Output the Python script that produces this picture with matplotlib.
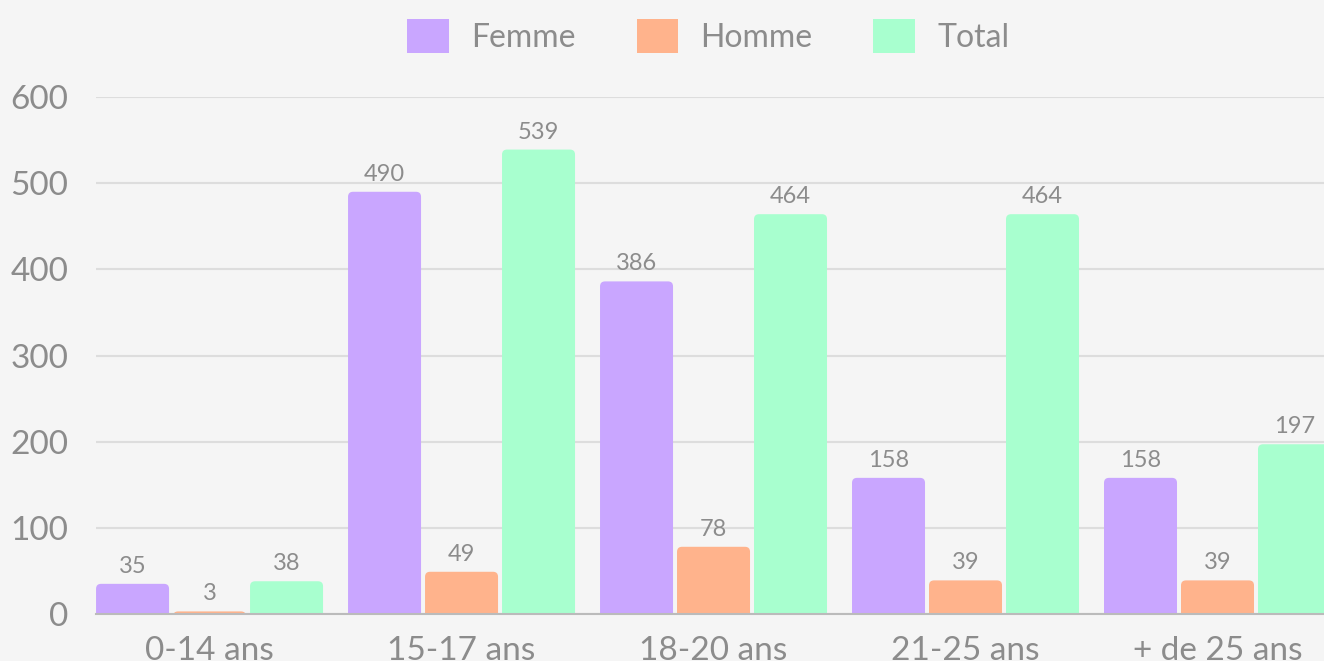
import matplotlib
matplotlib.use("Agg")
import matplotlib.pyplot as plt
from matplotlib.patches import FancyBboxPatch, Patch
import numpy as np

categories = ["0-14 ans", "15-17 ans", "18-20 ans", "21-25 ans", "+ de 25 ans"]
femme = [35, 490, 386, 158, 158]
homme = [3, 49, 78, 39, 39]
total = [38, 539, 464, 464, 197]
series_names = ["Femme", "Homme", "Total"]
colors = ["#c9a6ff", "#ffb38c", "#a8ffcf"]
yticks = [0, 100, 200, 300, 400, 500, 600]

plt.rcParams['font.family'] = ['Lato', 'DejaVu Sans']
text_color = "#8c8c8c"
bg = "#f5f5f5"

fig = plt.figure(figsize=(13.24, 6.61), dpi=100, facecolor=bg)
ax = fig.add_axes([96/1324, 47/661, 1 - 96/1324, (614-97)/661])
ax.set_facecolor(bg)

x = np.arange(len(categories))
step = 77/252
width = 73/252
ax.set_xlim(-0.4506, (1324-209.5)/252)
ax.set_ylim(0, 600)

px_per_x = 252
px_per_y = 517/600
r_px = 5
aspect = (1/px_per_y)/(1/px_per_x)

for i, (vals, col) in enumerate(zip([femme, homme, total], colors)):
    bars = ax.bar(x + (i-1)*step, vals, width, color=col)
    for rect, v in zip(bars, vals):
        bx, bw, bh = rect.get_x(), rect.get_width(), rect.get_height()
        rect.set_visible(False)
        p = FancyBboxPatch((bx, -20), bw, bh + 20,
                           boxstyle=f"round,pad=0,rounding_size={r_px/px_per_x}",
                           mutation_aspect=aspect, facecolor=col, edgecolor='none',
                           zorder=3)
        ax.add_patch(p)
        ax.annotate(str(v), (bx + bw/2, bh), xytext=(0, 5), textcoords='offset points',
                    ha='center', va='bottom', fontsize=17, color=text_color, zorder=4)

ax.set_yticks(yticks)
ax.set_yticklabels([str(t) for t in yticks])
ax.set_xticks(x)
ax.set_xticklabels(categories)
ax.tick_params(axis='y', length=0, pad=20, labelsize=24, labelcolor=text_color)
ax.tick_params(axis='x', length=0, pad=16, labelsize=24, labelcolor=text_color)
ax.grid(axis='y', color='#dddddd', linewidth=1.5, zorder=0)
ax.set_axisbelow(True)
for s in ['top', 'right', 'left']:
    ax.spines[s].set_visible(False)
ax.spines['bottom'].set_color('#bbbbbb')
ax.spines['bottom'].set_linewidth(1.5)
ax.spines['bottom'].set_zorder(5)

handles = [Patch(facecolor=c, edgecolor='none') for c in colors]
leg = fig.legend(handles, series_names, loc='center', bbox_to_anchor=(0.535, 1 - 36/661),
                 ncol=3, frameon=False, fontsize=23, handlelength=1.3, handleheight=1.3,
                 handletextpad=0.7, columnspacing=1.9, labelcolor=text_color)

fig.savefig("out.png", dpi=100, facecolor=bg)
